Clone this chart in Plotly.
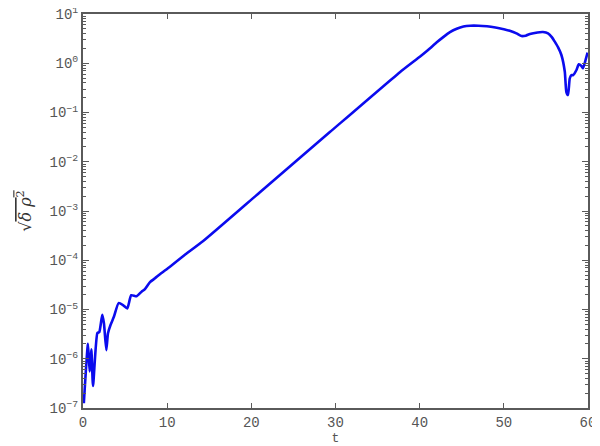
import plotly.graph_objects as go

# time samples and rms density perturbation
t = [0.1, 0.59, 0.79, 0.99, 1.19, 1.70, 1.94, 2.29, 2.49, 2.77, 2.97, 3.28, 3.67,
     4.23, 4.75, 5.26, 5.73, 6.37, 6.96, 7.36, 7.96, 8.55, 9.14, 10.33, 12.0,
     14.28, 21.02, 29.33, 37.65, 40.02, 41.0, 42.0, 42.8, 43.6, 44.4, 45.2,
     46.0, 47.0, 48.0, 49.0, 50.0, 50.7, 51.5, 52.1, 52.6, 53.1, 54.0, 54.65,
     55.25, 55.7, 56.05, 56.45, 56.84, 57.24, 57.43, 57.63, 57.83, 58.03,
     58.23, 58.63, 58.9, 59.22, 59.41, 59.65, 59.95]
rho = [1.25e-7, 2.0e-6, 5.5e-7, 1.55e-6, 2.8e-7, 3.3e-6, 3.5e-6, 7.8e-6, 5.2e-6,
       1.5e-6, 3.3e-6, 4.9e-6, 7.1e-6, 1.35e-5, 1.23e-5, 1.05e-5, 1.95e-5,
       1.86e-5, 2.3e-5, 2.6e-5, 3.6e-5, 4.3e-5, 5.2e-5, 7.4e-5, 1.25e-4,
       2.45e-4, 2.4e-3, 4.0e-2, 6.6e-1, 1.36, 1.86, 2.63, 3.39, 4.27, 5.01,
       5.56, 5.79, 5.79, 5.62, 5.31, 4.9, 4.57, 4.05, 3.57, 3.63, 3.93, 4.22,
       4.3, 4.05, 3.4, 2.74, 2.1, 1.47, 0.68, 0.26, 0.226, 0.49, 0.575, 0.575,
       0.73, 0.95, 0.88, 0.79, 1.07, 1.65]

x_ticks = [0, 10, 20, 30, 40, 50, 60]
y_ticks = [1e-7, 1e-6, 1e-5, 1e-4, 1e-3, 1e-2, 1e-1, 1, 10]
y_labels = ["10<sup>−7</sup>", "10<sup>−6</sup>", "10<sup>−5</sup>", "10<sup>−4</sup>",
            "10<sup>−3</sup>", "10<sup>−2</sup>", "10<sup>−1</sup>", "10<sup>0</sup>",
            "10<sup>1</sup>"]

axis_color = "#5a5a5a"
font_family = "Liberation Mono, Courier New, monospace"

fig = go.Figure()
fig.add_trace(go.Scatter(x=t, y=rho, mode="lines",
                         line=dict(color="#0b0bee", width=2.6, shape="spline",
                                   smoothing=0.5),
                         showlegend=False))

# the page body adds an 8px offset, so the figure is sized to fit inside it
fig.update_layout(
    width=592, height=438,
    margin=dict(l=75, r=12, t=6, b=38),
    paper_bgcolor="white", plot_bgcolor="white",
    font=dict(family=font_family, size=13, color="#555555"),
)
fig.update_xaxes(
    range=[0, 60], tickvals=x_ticks, ticks="inside", ticklen=5,
    tickcolor=axis_color, tickwidth=1, showgrid=False, zeroline=False,
    showline=True, linecolor=axis_color, linewidth=2, mirror="ticks",
    automargin=False, tickfont=dict(size=14), ticklabeloverflow="allow",
    title=dict(text="t", standoff=0, font=dict(size=13)),
)
fig.update_yaxes(
    type="log", range=[-7, 1], tickvals=y_ticks, ticktext=y_labels,
    ticks="inside", ticklen=6, tickcolor=axis_color, tickwidth=1,
    minor=dict(ticks="inside", ticklen=3, dtick="D1", tickcolor=axis_color),
    showgrid=False, zeroline=False, showline=True, linecolor=axis_color,
    linewidth=2, mirror="ticks", automargin=False, ticklabeloverflow="allow",
    tickfont=dict(size=14),
    title=dict(text="√<span style='text-decoration:overline'><i>δ ρ</i><sup>2</sup></span>",
               standoff=14, font=dict(size=16, family="DejaVu Serif", color="#333333")),
)

fig.write_html("out.html")
